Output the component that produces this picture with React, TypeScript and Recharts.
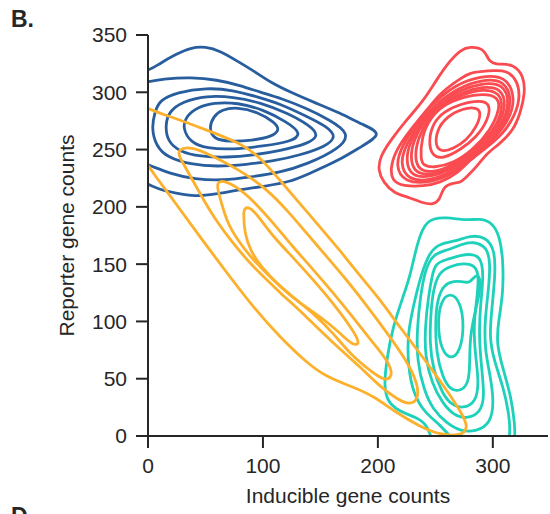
import { Line, LineChart, XAxis, YAxis } from "recharts";

type Pair = [number, number];

// KDE contour levels per group, outermost first, as [inducible, reporter] pairs.
// Points that fall outside the axes get clipped by the plot area.
const blueContours: Pair[][] = [
  [[-24,314],[0,318],[10,325],[24,333],[37,339],[50,340],[63,336],[78,327],[93,318],[106,309],[124,300],[145,291],[167,282],[186,272],[205,264],[186,253],[167,241],[138,228],[124,222],[102,218],[80,215],[58,211],[41,209],[24,212],[10,215],[0,220],[-20,227],[-42,267]],
  [[-24,306],[0,309],[16,312],[37,313],[60,311],[80,306],[98,300],[115,295],[138,286],[158,276],[176,264],[167,251],[138,237],[115,230],[89,226],[65,223],[41,224],[19,229],[0,237],[-24,245],[-37,276]],
  [[6,283],[10,293],[25,300],[51,304],[74,302],[95,296],[115,290],[138,279],[156,270],[164,261],[155,253],[132,245],[109,240],[86,237],[60,235],[37,237],[17,243],[7,253],[3,269]],
  [[15,271],[18,283],[30,292],[51,297],[74,296],[98,291],[121,282],[141,271],[149,262],[139,255],[115,249],[91,245],[69,243],[45,244],[28,248],[17,257]],
  [[30,269],[33,279],[43,287],[57,291],[78,291],[100,285],[121,274],[134,264],[125,257],[100,253],[74,250],[51,251],[37,256]],
  [[53,269],[57,279],[64,285],[78,287],[95,283],[110,274],[115,267],[107,261],[91,258],[71,257],[57,259]],
];

const redContours: Pair[][] = [
  [[280,340],[293,338],[296,327],[304,324],[318,325],[327,314],[328,299],[324,282],[318,267],[306,255],[295,247],[286,235],[277,226],[272,221],[266,221],[257,218],[254,206],[248,202],[240,203],[225,209],[214,212],[205,221],[200,232],[202,244],[211,258],[225,276],[240,293],[251,311],[263,328],[272,337]],
  [[254,299],[266,308],[272,312],[280,317],[289,318],[301,319],[312,319],[321,311],[324,296],[319,279],[309,264],[295,252],[280,241],[269,229],[254,221],[240,218],[222,218],[212,223],[211,235],[216,250],[228,267],[243,285]],
  [[223,221],[215,236],[221,253],[232,271],[247,290],[268,307],[289,314],[311,315],[320,295],[314,275],[299,257],[283,243],[266,229],[246,221]],
  [[226,223],[219,239],[225,255],[235,272],[249,289],[270,304],[290,311],[310,311],[317,293],[311,273],[297,257],[281,243],[264,230],[246,223]],
  [[229,226],[224,241],[228,257],[238,273],[251,289],[271,302],[290,308],[309,308],[315,291],[308,272],[295,256],[279,243],[263,232],[246,226]],
  [[232,229],[228,243],[231,258],[240,275],[253,289],[272,300],[291,305],[307,304],[312,289],[305,271],[292,255],[277,243],[261,233],[247,228]],
  [[235,232],[232,245],[235,260],[243,276],[255,289],[273,298],[291,303],[306,300],[309,287],[303,270],[290,255],[275,243],[260,234],[247,230]],
  [[237,241],[238,261],[245,277],[257,289],[274,296],[292,299],[305,296],[306,285],[298,267],[283,250],[266,238],[248,234],[240,236]],
  [[244,258],[248,273],[257,283],[272,290],[289,293],[298,290],[296,276],[286,261],[272,250],[257,242],[247,244]],
  [[250,252],[251,267],[260,279],[274,286],[286,287],[290,282],[286,270],[277,258],[266,251],[256,248]],
];

const tealContours: Pair[][] = [
  [[242,190],[260,191],[277,188],[289,190],[300,186],[306,174],[309,154],[309,124],[305,101],[303,81],[309,58],[316,34],[319,11],[320,-8],[306,-23],[263,-23],[247,-5],[244,7],[237,15],[222,20],[209,28],[205,43],[208,69],[213,95],[222,122],[228,139],[234,168]],
  [[254,168],[268,170],[280,175],[294,174],[302,162],[302,139],[299,110],[297,86],[301,66],[309,43],[314,20],[316,-3],[306,-19],[280,-19],[265,-3],[254,10],[241,20],[231,36],[226,62],[226,90],[231,114],[237,139],[245,161]],
  [[248,159],[260,162],[272,167],[283,170],[295,165],[298,151],[296,125],[293,101],[293,75],[298,52],[301,29],[298,11],[286,4],[272,4],[260,11],[248,23],[240,40],[234,66],[234,93],[237,122],[241,145]],
  [[250,151],[260,154],[272,158],[283,159],[290,155],[292,139],[289,113],[288,87],[290,61],[293,34],[289,20],[277,15],[266,18],[256,29],[247,46],[241,69],[241,95],[244,122],[247,139]],
  [[253,143],[263,148],[274,151],[285,149],[288,139],[286,119],[283,95],[285,69],[288,46],[285,29],[274,24],[264,27],[256,37],[248,58],[245,81],[246,107],[248,127]],
  [[256,130],[263,135],[273,135],[280,133],[285,141],[289,139],[289,127],[285,110],[280,87],[280,63],[279,46],[272,39],[263,40],[256,52],[251,72],[250,95],[251,116]],
  [[263,126],[272,117],[275,96],[272,75],[264,66],[255,75],[252,96],[254,117]],
];

const orangeContours: Pair[][] = [
  [[-24,298],[0,285],[22,278],[51,267],[80,256],[98,243],[115,223],[132,203],[150,182],[167,162],[185,139],[202,119],[219,95],[239,69],[260,40],[273,20],[279,7],[272,0],[254,1],[237,8],[215,21],[196,35],[178,43],[156,51],[138,64],[115,86],[91,113],[69,142],[45,174],[22,206],[4,230],[0,237],[-20,258]],
  [[26,250],[37,253],[57,244],[80,232],[104,215],[121,197],[138,177],[156,156],[173,136],[191,113],[208,90],[225,66],[235,45],[235,32],[228,27],[217,32],[202,43],[185,60],[161,81],[138,104],[115,125],[91,148],[74,168],[57,191],[45,212],[34,232],[27,244]],
  [[61,222],[66,223],[78,217],[91,206],[109,186],[126,165],[144,145],[161,125],[178,104],[196,81],[210,64],[213,52],[206,48],[196,55],[178,69],[161,90],[144,107],[126,121],[109,136],[91,154],[78,171],[69,186],[64,203],[60,217]],
  [[84,199],[89,200],[98,189],[109,174],[126,156],[144,136],[161,116],[178,93],[185,80],[178,79],[167,90],[150,104],[132,116],[115,130],[98,148],[89,162],[84,177],[83,195]],
];

const xTicks = [0, 100, 200, 300];
const yTicks = [0, 50, 100, 150, 200, 250, 300, 350];

const groups = [
  { name: "blue", color: "#285d9e", contours: blueContours },
  { name: "red", color: "#fa4b51", contours: redContours },
  { name: "teal", color: "#1ed1ba", contours: tealContours },
  { name: "orange", color: "#fcb02c", contours: orangeContours },
];

const INK = "#262626";
const FONT = '"Liberation Sans", Arial, sans-serif';

export default function App() {
  return (
    <div
      style={{
        position: "absolute",
        left: 0,
        top: 0,
        width: 550,
        height: 514,
        background: "#fff",
        fontFamily: FONT,
        overflow: "hidden",
      }}
    >
      <LineChart
        width={550}
        height={514}
        margin={{ top: 35, right: 2, bottom: 8, left: 48 }}
      >
        <XAxis
          type="number"
          dataKey="x"
          domain={[0, 348]}
          allowDataOverflow
          ticks={xTicks}
          interval={0}
          height={70}
          tickSize={12}
          tickMargin={10}
          tick={{ fill: INK, fontSize: 21 }}
          tickLine={{ stroke: INK, strokeWidth: 2 }}
          axisLine={{ stroke: INK, strokeWidth: 2 }}
          label={{
            value: "Inducible gene counts",
            position: "insideBottom",
            offset: 3,
            fill: INK,
            fontSize: 21,
          }}
        />
        <YAxis
          type="number"
          domain={[0, 350]}
          allowDataOverflow
          ticks={yTicks}
          interval={0}
          width={100}
          tickSize={12}
          tickMargin={9}
          tick={{ fill: INK, fontSize: 21 }}
          tickLine={{ stroke: INK, strokeWidth: 2 }}
          axisLine={{ stroke: INK, strokeWidth: 2 }}
          label={{
            value: "Reporter gene counts",
            angle: -90,
            position: "insideLeft",
            offset: 19,
            textAnchor: "middle",
            fill: INK,
            fontSize: 21,
          }}
        />
        {groups.flatMap((g) =>
          g.contours.map((c, i) => (
            <Line
              key={`${g.name}-${i}`}
              data={c.map(([x, y]) => ({ x, y }))}
              dataKey="y"
              type="basisClosed"
              stroke={g.color}
              strokeWidth={2.8}
              dot={false}
              activeDot={false}
              isAnimationActive={false}
            />
          ))
        )}
      </LineChart>
      <svg
        width={550}
        height={514}
        style={{ position: "absolute", left: 0, top: 0, pointerEvents: "none" }}
      >
        <text x={11} y={27} fontSize={23} fontWeight={700} fill={INK}>
          B.
        </text>
        <text x={11} y={524} fontSize={23} fontWeight={700} fill={INK}>
          D.
        </text>
      </svg>
    </div>
  );
}
